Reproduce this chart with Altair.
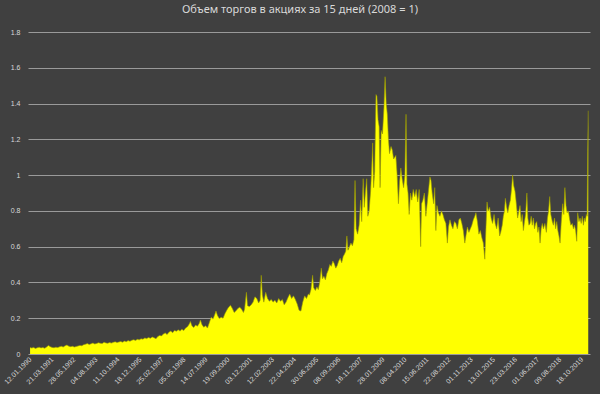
import altair as alt
import pandas as pd

TITLE = "Объем торгов в акциях за 15 дней (2008 = 1)"

# decimal-year positions of the readings
year_pos = [
    1990.03, 1990.12, 1990.22, 1990.32, 1990.42, 1990.52, 1990.62, 1990.72, 1990.82, 1990.92,
    1991.02, 1991.12, 1991.22, 1991.32, 1991.42, 1991.52, 1991.62, 1991.72, 1991.82, 1991.92,
    1992.02, 1992.12, 1992.22, 1992.32, 1992.42, 1992.52, 1992.62, 1992.72, 1992.82, 1992.92,
    1993.02, 1993.12, 1993.22, 1993.32, 1993.42, 1993.52, 1993.62, 1993.72, 1993.82, 1993.92,
    1994.02, 1994.12, 1994.22, 1994.32, 1994.42, 1994.52, 1994.62, 1994.72, 1994.82, 1994.92,
    1995.02, 1995.12, 1995.22, 1995.32, 1995.42, 1995.52, 1995.62, 1995.72, 1995.82, 1995.92,
    1996.02, 1996.12, 1996.22, 1996.32, 1996.42, 1996.52, 1996.62, 1996.72, 1996.82, 1996.92,
    1997.02, 1997.12, 1997.22, 1997.32, 1997.42, 1997.52, 1997.62, 1997.72, 1997.82, 1997.92,
    1998.02, 1998.12, 1998.22, 1998.32, 1998.42, 1998.52, 1998.62, 1998.68, 1998.76, 1998.86,
    1998.96, 1999.06, 1999.16, 1999.22, 1999.30, 1999.40, 1999.50, 1999.60, 1999.70, 1999.80,
    1999.90, 2000.00, 2000.06, 2000.14, 2000.24, 2000.34, 2000.44, 2000.54, 2000.64, 2000.74,
    2000.84, 2000.94, 2001.04, 2001.14, 2001.24, 2001.34, 2001.44, 2001.54, 2001.60, 2001.70,
    2001.76, 2001.86, 2001.96, 2002.06, 2002.16, 2002.26, 2002.36, 2002.44, 2002.50, 2002.56,
    2002.64, 2002.74, 2002.84, 2002.94, 2003.04, 2003.14, 2003.24, 2003.34, 2003.44, 2003.54,
    2003.64, 2003.74, 2003.84, 2003.94, 2004.04, 2004.14, 2004.24, 2004.34, 2004.44, 2004.54,
    2004.64, 2004.74, 2004.84, 2004.94, 2005.04, 2005.10, 2005.18, 2005.27, 2005.33, 2005.42,
    2005.50, 2005.58, 2005.66, 2005.74, 2005.80, 2005.88, 2005.96, 2006.04, 2006.12, 2006.20,
    2006.28, 2006.36, 2006.44, 2006.52, 2006.60, 2006.68, 2006.76, 2006.84, 2006.92, 2007.00,
    2007.06, 2007.12, 2007.18, 2007.26, 2007.34, 2007.42, 2007.50, 2007.56, 2007.62, 2007.70,
    2007.78, 2007.86, 2007.92, 2008.00, 2008.06, 2008.12, 2008.19, 2008.25, 2008.32, 2008.40,
    2008.46, 2008.51, 2008.56, 2008.62, 2008.69, 2008.74, 2008.80, 2008.86, 2008.91, 2008.97,
    2009.04, 2009.12, 2009.18, 2009.24, 2009.30, 2009.36, 2009.42, 2009.50, 2009.57, 2009.64,
    2009.70, 2009.76, 2009.83, 2009.90, 2009.96, 2010.03, 2010.10, 2010.18, 2010.25, 2010.31,
    2010.36, 2010.42, 2010.48, 2010.55, 2010.62, 2010.70, 2010.78, 2010.86, 2010.94, 2011.02,
    2011.10, 2011.15, 2011.22, 2011.30, 2011.38, 2011.46, 2011.54, 2011.60, 2011.66, 2011.72,
    2011.80, 2011.86, 2011.92, 2011.98, 2012.06, 2012.14, 2012.22, 2012.30, 2012.38, 2012.46,
    2012.54, 2012.60, 2012.68, 2012.76, 2012.84, 2012.92, 2013.00, 2013.08, 2013.16, 2013.24,
    2013.32, 2013.40, 2013.48, 2013.54, 2013.62, 2013.70, 2013.78, 2013.86, 2013.94, 2014.02,
    2014.08, 2014.16, 2014.24, 2014.32, 2014.40, 2014.48, 2014.56, 2014.62, 2014.68, 2014.74,
    2014.82, 2014.90, 2014.98, 2015.06, 2015.12, 2015.20, 2015.28, 2015.36, 2015.42, 2015.50,
    2015.56, 2015.62, 2015.67, 2015.74, 2015.80, 2015.87, 2015.94, 2016.00, 2016.06, 2016.12,
    2016.19, 2016.26, 2016.33, 2016.40, 2016.46, 2016.52, 2016.58, 2016.64, 2016.70, 2016.76,
    2016.83, 2016.88, 2016.94, 2017.00, 2017.06, 2017.12, 2017.18, 2017.24, 2017.30, 2017.36,
    2017.42, 2017.48, 2017.54, 2017.60, 2017.66, 2017.72, 2017.80, 2017.88, 2017.94, 2018.00,
    2018.06, 2018.12, 2018.20, 2018.26, 2018.32, 2018.38, 2018.44, 2018.50, 2018.56, 2018.62,
    2018.68, 2018.76, 2018.82, 2018.88, 2018.94, 2019.00, 2019.07, 2019.14, 2019.20, 2019.28,
    2019.34, 2019.40, 2019.46, 2019.52, 2019.57, 2019.64, 2019.70, 2019.76, 2019.82, 2019.88,
    2019.93, 2019.98, 2020.04, 2020.08, 2020.11, 2020.14,
]

volume = [
    0.036, 0.033, 0.037, 0.031, 0.035, 0.038, 0.034, 0.036, 0.032, 0.039,
    0.048, 0.041, 0.037, 0.035, 0.038, 0.036, 0.040, 0.043, 0.039, 0.046,
    0.050, 0.044, 0.041, 0.043, 0.039, 0.042, 0.045, 0.048, 0.046, 0.052,
    0.055, 0.058, 0.053, 0.057, 0.061, 0.056, 0.059, 0.063, 0.060, 0.058,
    0.066, 0.062, 0.060, 0.064, 0.061, 0.065, 0.068, 0.064, 0.067, 0.070,
    0.066, 0.072, 0.069, 0.075, 0.071, 0.077, 0.080, 0.076, 0.082, 0.079,
    0.085, 0.083, 0.090, 0.086, 0.092, 0.088, 0.095, 0.091, 0.085, 0.098,
    0.104, 0.101, 0.112, 0.118, 0.109, 0.122, 0.128, 0.119, 0.132, 0.127,
    0.135, 0.128, 0.138, 0.131, 0.145, 0.152, 0.168, 0.182, 0.158, 0.148,
    0.162, 0.155, 0.172, 0.190, 0.165, 0.150, 0.158, 0.145, 0.175, 0.205,
    0.195, 0.222, 0.240, 0.215, 0.198, 0.205, 0.200, 0.225, 0.245, 0.262,
    0.272, 0.255, 0.232, 0.242, 0.255, 0.262, 0.250, 0.232, 0.250, 0.345,
    0.270, 0.265, 0.275, 0.290, 0.320, 0.310, 0.285, 0.300, 0.440, 0.330,
    0.290, 0.345, 0.310, 0.295, 0.305, 0.290, 0.300, 0.285, 0.310, 0.295,
    0.305, 0.275, 0.290, 0.315, 0.335, 0.310, 0.325, 0.305, 0.280, 0.245,
    0.240, 0.290, 0.325, 0.310, 0.335, 0.330, 0.360, 0.440, 0.370, 0.355,
    0.375, 0.360, 0.405, 0.480, 0.420, 0.435, 0.415, 0.450, 0.470, 0.500,
    0.490, 0.520, 0.505, 0.480, 0.495, 0.520, 0.535, 0.510, 0.545, 0.560,
    0.575, 0.660, 0.580, 0.600, 0.620, 0.605, 0.640, 0.970, 0.700, 0.670,
    0.720, 0.860, 0.740, 0.980, 0.820, 0.900, 0.980, 0.770, 0.800, 0.910,
    1.040, 1.180, 0.930, 1.020, 1.450, 1.440, 1.310, 1.270, 0.930, 1.250,
    1.230, 1.380, 1.550, 1.400, 1.340, 1.200, 1.120, 1.160, 1.140, 1.090,
    1.100, 1.110, 1.000, 0.840, 0.960, 1.040, 0.980, 0.930, 1.000, 1.340,
    0.950, 0.900, 0.780, 0.900, 0.860, 0.920, 0.880, 0.920, 0.850, 0.920,
    0.600, 0.840, 0.860, 0.900, 0.770, 0.850, 0.930, 0.990, 0.970, 0.900,
    0.840, 0.930, 0.690, 0.830, 0.790, 0.770, 0.800, 0.780, 0.750, 0.730,
    0.620, 0.710, 0.750, 0.720, 0.700, 0.740, 0.730, 0.700, 0.750, 0.760,
    0.730, 0.690, 0.620, 0.660, 0.710, 0.680, 0.700, 0.720, 0.750, 0.770,
    0.790, 0.740, 0.670, 0.690, 0.650, 0.620, 0.530, 0.700, 0.850, 0.800,
    0.820, 0.760, 0.730, 0.780, 0.730, 0.700, 0.760, 0.660, 0.680, 0.720,
    0.770, 0.800, 0.870, 0.820, 0.790, 0.830, 0.860, 0.920, 1.000, 0.940,
    0.910, 0.840, 0.760, 0.800, 0.830, 0.740, 0.780, 0.690, 0.740, 0.780,
    0.900, 0.760, 0.720, 0.730, 0.770, 0.720, 0.760, 0.700, 0.730, 0.740,
    0.680, 0.710, 0.620, 0.700, 0.730, 0.700, 0.730, 0.680, 0.760, 0.800,
    0.880, 0.780, 0.740, 0.720, 0.760, 0.700, 0.740, 0.690, 0.660, 0.620,
    0.730, 0.840, 0.780, 0.930, 0.830, 0.790, 0.800, 0.750, 0.720, 0.730,
    0.700, 0.720, 0.690, 0.630, 0.790, 0.740, 0.760, 0.730, 0.770, 0.720,
    0.760, 0.740, 0.780, 0.770, 1.130, 1.360,
]

tick_labels = [
    "12.01.1990", "21.03.1991", "28.05.1992", "04.08.1993", "11.10.1994",
    "18.12.1995", "25.02.1997", "05.05.1998", "14.07.1999", "19.09.2000",
    "03.12.2001", "12.02.2003", "22.04.2004", "30.06.2005", "08.09.2006",
    "16.11.2007", "28.01.2009", "08.04.2010", "15.06.2011", "22.08.2012",
    "01.11.2013", "13.01.2015", "23.03.2016", "01.06.2017", "09.08.2018",
    "18.10.2019",
]


def dec_to_iso(y):
    yr = int(y)
    start = pd.Timestamp(yr, 1, 1)
    end = pd.Timestamp(yr + 1, 1, 1)
    return (start + (end - start) * (y - yr)).strftime("%Y-%m-%dT%H:%M:%S")


n = min(len(year_pos), len(volume))
df = pd.DataFrame({
    "date": [dec_to_iso(y) for y in year_pos[:n]],
    "value": volume[:n],
})

tick_values = []
for s in tick_labels:
    d, m, y = s.split(".")
    tick_values.append(alt.DateTime(year=int(y), month=int(m), date=int(d)))

FONT = "Liberation Sans"
TXT = "#d9d9d9"

chart = alt.Chart(df).mark_area(
    color="#ffff00",
    opacity=1,
    fillOpacity=1,
    interpolate="linear",
    line={"color": "#9a9a00", "strokeWidth": 0.6},
).encode(
    x=alt.X(
        "date:T",
        scale=alt.Scale(domain=[
            alt.DateTime(year=1989, month=12, date=2),
            alt.DateTime(year=2020, month=3, date=27),
        ]),
        axis=alt.Axis(
            values=tick_values,
            format="%d.%m.%Y",
            labelAngle=-45,
            labelAlign="right",
            labelBaseline="middle",
            labelFontSize=7,
            labelFont=FONT,
            labelColor=TXT,
            labelPadding=4,
            labelOverlap=False,
            ticks=False,
            domain=False,
            grid=False,
            title=None,
        ),
    ),
    y=alt.Y(
        "value:Q",
        scale=alt.Scale(domain=[0, 1.8], nice=False),
        axis=alt.Axis(
            values=[0, 0.2, 0.4, 0.6, 0.8, 1.0, 1.2, 1.4, 1.6, 1.8],
            format="~g",
            labelFontSize=7,
            labelFont=FONT,
            labelColor=TXT,
            labelPadding=8,
            ticks=False,
            domain=False,
            grid=True,
            gridColor="#9a9a9a",
            gridWidth=1,
            title=None,
        ),
    ),
).properties(
    width=562,
    height=322,
    title=alt.TitleParams(
        TITLE,
        anchor="middle",
        dx=-9,
        offset=13,
        font="Noto Sans",
        fontSize=11,
        fontWeight="normal",
        color=TXT,
    ),
    background="#404040",
    padding={"left": 28, "top": 32, "right": 10, "bottom": 40},
    autosize=alt.AutoSizeParams(type="none"),
).configure_view(
    stroke=None,
)

chart.save("out.html", embed_options={"renderer": "svg", "actions": False})
